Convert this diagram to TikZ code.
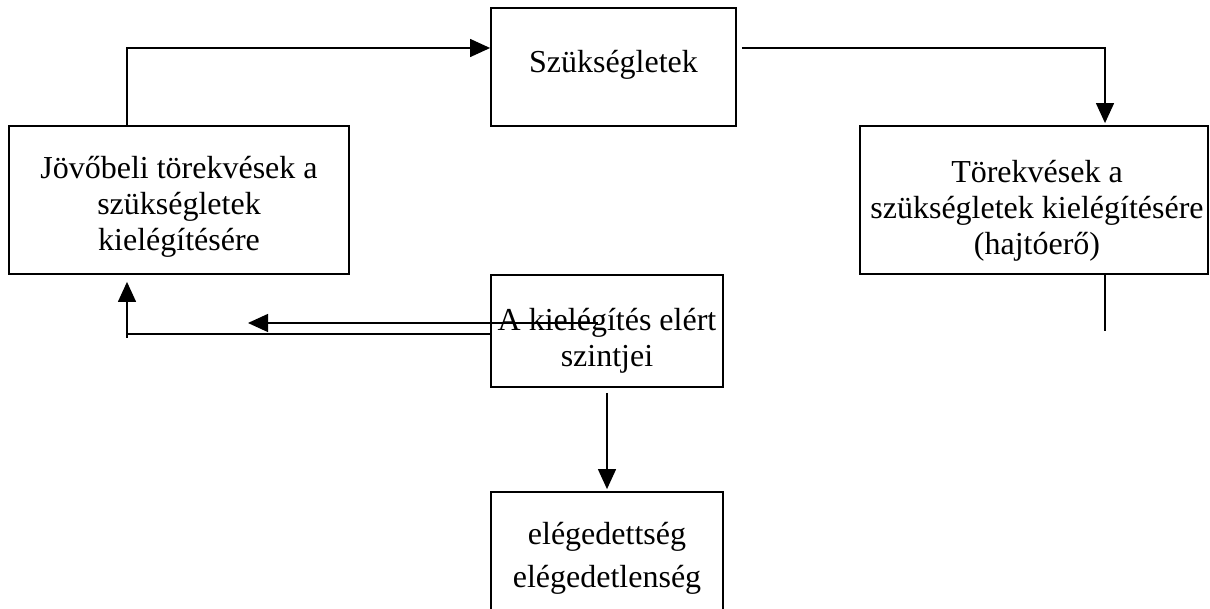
\documentclass[tikz,border=0pt]{standalone}
\usepackage{fontspec}
\setmainfont{Liberation Serif}
\usetikzlibrary{arrows.meta}
\begin{document}
\begin{tikzpicture}[x=1pt,y=-1pt,
  box/.style={draw,line width=1.8pt,inner sep=0pt},
  txt/.style={font=\fontsize{32}{36}\selectfont,align=center,inner sep=0pt},
  conn/.style={line width=1.3pt},
  arr/.style={conn,-{Triangle[length=20pt,width=18pt]}}]
\useasboundingbox (0,0) rectangle (1210,609);
\begin{scope}
\clip (0,0) rectangle (1210,609);
% boxes
\node[box, minimum width=245pt, minimum height=118pt] (need) at (613.5,67) {};
\node[txt] (needt) at (613.5,65) {Szükségletek};
\node[box, minimum width=340pt, minimum height=148pt] (fut) at (179,200) {};
\node[txt] (futt) at (179,207) {Jövőbeli törekvések a\\szükségletek\\kielégítésére};
\node[box, minimum width=348pt, minimum height=148pt] (drive) at (1034,200) {};
\node[txt] (drivet) at (1037,211) {Törekvések a\\szükségletek kielégítésére\\(hajtóerő)};
\node[box, minimum width=232pt, minimum height=112pt] (lev) at (607,331) {};
\node[txt] (levt) at (607,341) {A kielégítés elért\\szintjei};
\node[box, minimum width=232pt, minimum height=150pt] (sat) at (607,567) {};
\node[txt, font=\fontsize{32}{43}\selectfont] (satt) at (607,558.5) {elégedettség\\elégedetlenség};
\end{scope}
% connectors
\coordinate (a1) at (127,48);
\draw[arr] (a1 |- fut.north) -- (a1) -- (a1 -| need.west);
\coordinate (a2) at (1105,48);
\draw[arr, shorten <=5pt, shorten >=2pt] (a2 -| need.east) -- (a2) -- (a2 |- drive.north);
\coordinate (a3) at (1105,331);
\draw[conn] (a3 |- drive.south) -- (a3);
\coordinate (b0) at (598,323);
\coordinate (b1) at (248,323);
\draw[arr] (b0) -- (b1);
\coordinate (c1) at (127,334);
\draw[conn] (c1 -| lev.west) -- (c1);
\coordinate (c2) at (127,338);
\draw[arr, shorten >=7pt] (c2) -- (c2 |- fut.south);
\draw[arr, shorten <=5pt, shorten >=2pt] (lev.south) -- (sat.north);
\end{tikzpicture}
\end{document}
